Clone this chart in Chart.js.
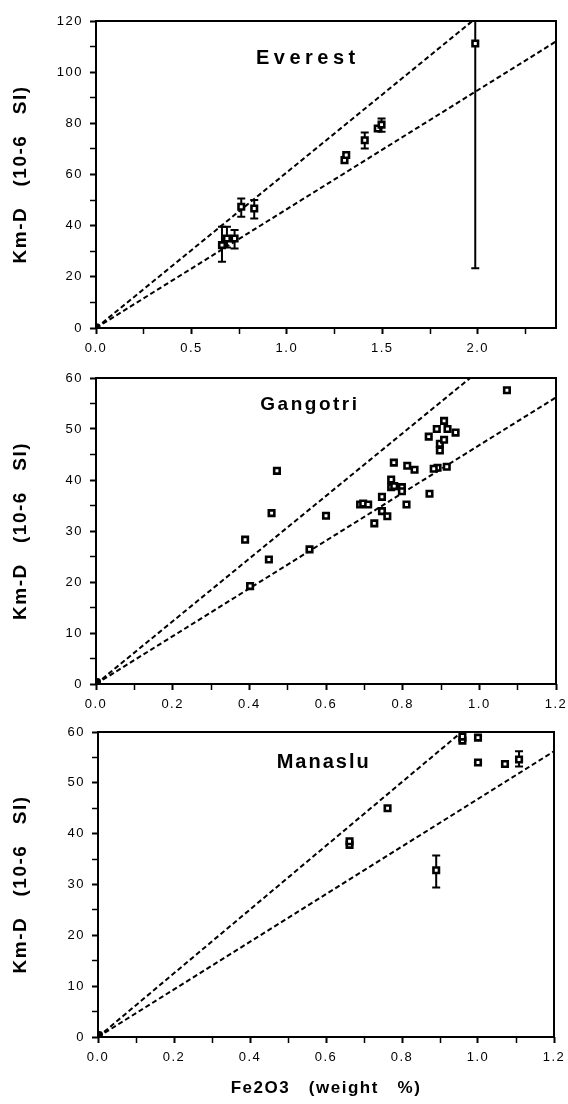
<!DOCTYPE html>
<html>
<head>
<meta charset="utf-8">
<script src="https://cdn.jsdelivr.net/npm/chart.js@4.4.1/dist/chart.umd.min.js"></script>
<style>
  body { margin: 0; background: #fff; }
  .panel { position: absolute; left: 0; width: 568px; }
</style>
</head>
<body>
<div class="panel" style="top:0px"><canvas id="everestChart" width="568" height="360"></canvas></div>
<div class="panel" style="top:360px"><canvas id="gangotriChart" width="568" height="350"></canvas></div>
<div class="panel" style="top:710px"><canvas id="manasluChart" width="568" height="394"></canvas></div>
<script>
// ============= datos =============
// Everest
const everestFe   = [0.660, 0.686, 0.726, 0.761, 0.829, 1.302, 1.311, 1.408, 1.476, 1.496, 1.987];
const everestKm   = [32.4, 35.0, 35.0, 47.4, 46.7, 65.6, 67.6, 73.4, 78.0, 79.5, 111.2];
const everestLow  = [25.9, 31.5, 31.1, 43.5, 42.8, null, null, 70.2, null, 76.7, 23.4];
const everestHigh = [39.6, 39.6, 38.3, 50.6, 50.0, null, null, 76.4, null, 81.9, 199];
const everestUpper = [[0, 0], [1.972, 120]];
const everestLower = [[0, 0], [2.41, 112]];

// Gangotri
const gangotriFe = [0.389, 0.451, 0.458, 0.472, 0.402, 0.557, 0.600, 0.689, 0.697, 0.710,
                    0.726, 0.746, 0.746, 0.760, 0.770, 0.770, 0.777, 0.778, 0.798, 0.798,
                    0.810, 0.812, 0.831, 0.868, 0.870, 0.889, 0.891, 0.897, 0.897, 0.908,
                    0.908, 0.915, 0.917, 0.938, 1.072, 0.881];
const gangotriKm = [28.3, 24.4, 33.5, 41.8, 19.2, 26.4, 33.0, 35.2, 35.4, 35.2,
                    31.5, 36.7, 33.9, 32.9, 40.1, 38.6, 43.4, 38.8, 38.6, 37.8,
                    35.2, 42.8, 42.0, 48.5, 37.3, 50.0, 42.4, 47.1, 45.8, 51.6,
                    47.9, 42.6, 50.0, 49.3, 57.6, 42.2];
const gangotriUpper = [[0, 0], [0.976, 60]];
const gangotriLower = [[0, 0], [1.2, 56.2]];

// Manaslu
const manasluFe   = [0.662, 0.662, 0.762, 0.890, 0.959, 0.959, 1.000, 1.000, 1.071, 1.108];
const manasluKm   = [37.8, 38.5, 45.0, 32.8, 58.3, 59.1, 58.9, 54.0, 53.7, 54.6];
const manasluLow  = [null, null, null, 29.4, null, 58.3, null, null, null, 53.2];
const manasluHigh = [null, null, null, 35.7, null, 60.2, null, null, null, 56.2];
const manasluUpper = [[0, 0], [0.957, 60]];
const manasluLower = [[0, 0], [1.2, 56.2]];

// punto en el origen
const originFe = [0.004];
const originKm = [0.5];

const FONT = "'Liberation Sans', Arial, sans-serif";

// ============= plugins =============
const errorBars = {
    id: 'errorBars',
    beforeDraw(chart) {
        chart.ctx.letterSpacing = '1.5px';
    },
    beforeDatasetsDraw(chart) {
        const { ctx, chartArea, scales } = chart;
        ctx.save();
        ctx.beginPath();
        ctx.rect(chartArea.left, chartArea.top, chartArea.right - chartArea.left, chartArea.bottom - chartArea.top);
        ctx.clip();
        ctx.strokeStyle = '#000';
        ctx.lineWidth = 2;
        chart.data.datasets.forEach(ds => {
            if (!ds.errLow) return;
            ds.data.forEach((p, i) => {
                const lo = ds.errLow[i], hi = ds.errHigh[i];
                if (lo == null) return;
                const x = scales.x.getPixelForValue(p.x);
                const y1 = scales.y.getPixelForValue(lo);
                const y2 = scales.y.getPixelForValue(hi);
                ctx.beginPath();
                ctx.moveTo(x, y1); ctx.lineTo(x, y2);
                ctx.moveTo(x - 4, y1); ctx.lineTo(x + 4, y1);
                ctx.moveTo(x - 4, y2); ctx.lineTo(x + 4, y2);
                ctx.stroke();
            });
        });
        ctx.restore();
    }
};

const plotFrame = {
    id: 'plotFrame',
    afterDatasetsDraw(chart, args, opts) {
        const { ctx, chartArea, scales } = chart;
        ctx.save();
        ctx.strokeStyle = '#000';
        ctx.lineWidth = 2;
        ctx.strokeRect(chartArea.left, chartArea.top, chartArea.right - chartArea.left, chartArea.bottom - chartArea.top);
        // nombre del macizo
        ctx.font = 'bold ' + opts.size + 'px ' + FONT;
        ctx.letterSpacing = opts.spacing + 'px';
        ctx.fillStyle = '#000';
        ctx.textAlign = 'center';
        ctx.textBaseline = 'middle';
        ctx.fillText(opts.text, scales.x.getPixelForValue(opts.x), scales.y.getPixelForValue(opts.y));
        ctx.restore();
    }
};

const toPoints = (xs, ys) => xs.map((x, i) => ({ x: x, y: ys[i] }));
const toLine = (pts) => pts.map(p => ({ x: p[0], y: p[1] }));
const isStep = (v, step) => Math.abs(v / step - Math.round(v / step)) < 1e-6;

const crearPanel = (id, cfg) => {
    const datasets = [
        {
            data: toPoints(cfg.fe, cfg.km),
            errLow: cfg.low,
            errHigh: cfg.high,
            pointStyle: 'rect',
            pointRadius: 3.9,
            borderWidth: 2.6,
            borderColor: '#000',
            backgroundColor: '#fff',
            showLine: false
        },
        {
            data: toPoints(originFe, originKm),
            pointStyle: 'circle',
            pointRadius: 3.5,
            borderWidth: 0,
            backgroundColor: '#000',
            showLine: false
        },
        {
            data: toLine(cfg.upper),
            showLine: true,
            borderColor: '#000',
            borderWidth: 2,
            borderDash: [5, 3],
            pointRadius: 0,
            fill: false
        },
        {
            data: toLine(cfg.lower),
            showLine: true,
            borderColor: '#000',
            borderWidth: 2,
            borderDash: [5, 3],
            pointRadius: 0,
            fill: false
        }
    ];

    return new Chart(document.getElementById(id), {
        type: 'scatter',
        data: { datasets: datasets },
        plugins: [errorBars, plotFrame],
        options: {
            responsive: false,
            animation: false,
            layout: { padding: { top: cfg.top, right: cfg.right, left: 0, bottom: 0 } },
            plugins: {
                legend: { display: false },
                tooltip: { enabled: false },
                plotFrame: cfg.label
            },
            scales: {
                x: {
                    type: 'linear',
                    min: 0,
                    max: cfg.xMax,
                    border: { display: false },
                    grid: {
                        drawOnChartArea: false,
                        tickLength: 6,
                        tickColor: '#000',
                        tickWidth: (c) => isStep(c.tick.value, cfg.xMajor) ? 2 : 1.5
                    },
                    ticks: {
                        stepSize: cfg.xMinor,
                        includeBounds: false,
                        autoSkip: false,
                        maxRotation: 0,
                        padding: 7,
                        color: '#000',
                        font: { family: FONT, size: 13 },
                        callback: (v) => isStep(v, cfg.xMajor) ? v.toFixed(1) : ''
                    },
                    title: {
                        display: !!cfg.xTitle,
                        text: cfg.xTitle || '',
                        color: '#000',
                        font: { family: FONT, size: 17, weight: 'bold' },
                        padding: { top: 0, bottom: 5 }
                    },
                    afterFit: (s) => { s.height = cfg.xHeight; s.paddingLeft = 0; s.paddingRight = 0; }
                },
                y: {
                    type: 'linear',
                    min: 0,
                    max: cfg.yMax,
                    border: { display: false },
                    grid: {
                        drawOnChartArea: false,
                        tickLength: 6,
                        tickColor: '#000',
                        tickWidth: (c) => isStep(c.tick.value, cfg.yMajor) ? 2 : 1.5
                    },
                    ticks: {
                        stepSize: cfg.yMinor,
                        autoSkip: false,
                        padding: 7,
                        color: '#000',
                        font: { family: FONT, size: 13 },
                        callback: (v) => isStep(v, cfg.yMajor) ? String(v) : ''
                    },
                    title: {
                        display: true,
                        text: 'Km-D   (10-6   SI)',
                        color: '#000',
                        font: { family: FONT, size: 19, weight: 'bold' },
                        padding: { top: 9, bottom: 0 }
                    },
                    afterFit: (s) => { s.width = cfg.yWidth; s.paddingTop = 0; s.paddingBottom = 0; }
                }
            }
        }
    });
};

// ============= graficas =============
crearPanel('everestChart', {
    fe: everestFe, km: everestKm, low: everestLow, high: everestHigh,
    upper: everestUpper, lower: everestLower,
    xMax: 2.41, xMinor: 0.25, xMajor: 0.5,
    yMax: 120, yMinor: 10, yMajor: 20,
    top: 21, right: 12, xHeight: 32, yWidth: 96,
    label: { text: 'Everest', x: 1.11, y: 105.5, size: 20, spacing: 4.5 }
});

crearPanel('gangotriChart', {
    fe: gangotriFe, km: gangotriKm, low: null, high: null,
    upper: gangotriUpper, lower: gangotriLower,
    xMax: 1.2, xMinor: 0.1, xMajor: 0.2,
    yMax: 60, yMinor: 5, yMajor: 10,
    top: 18, right: 12, xHeight: 26, yWidth: 96,
    label: { text: 'Gangotri', x: 0.558, y: 54.7, size: 19, spacing: 2.5 }
});

crearPanel('manasluChart', {
    fe: manasluFe, km: manasluKm, low: manasluLow, high: manasluHigh,
    upper: manasluUpper, lower: manasluLower,
    xMax: 1.2, xMinor: 0.1, xMajor: 0.2,
    yMax: 60, yMinor: 5, yMajor: 10,
    top: 22, right: 14, xHeight: 67, yWidth: 98,
    xTitle: 'Fe2O3   (weight   %)',
    label: { text: 'Manaslu', x: 0.594, y: 54.1, size: 20, spacing: 2 }
});
</script>
</body>
</html>
